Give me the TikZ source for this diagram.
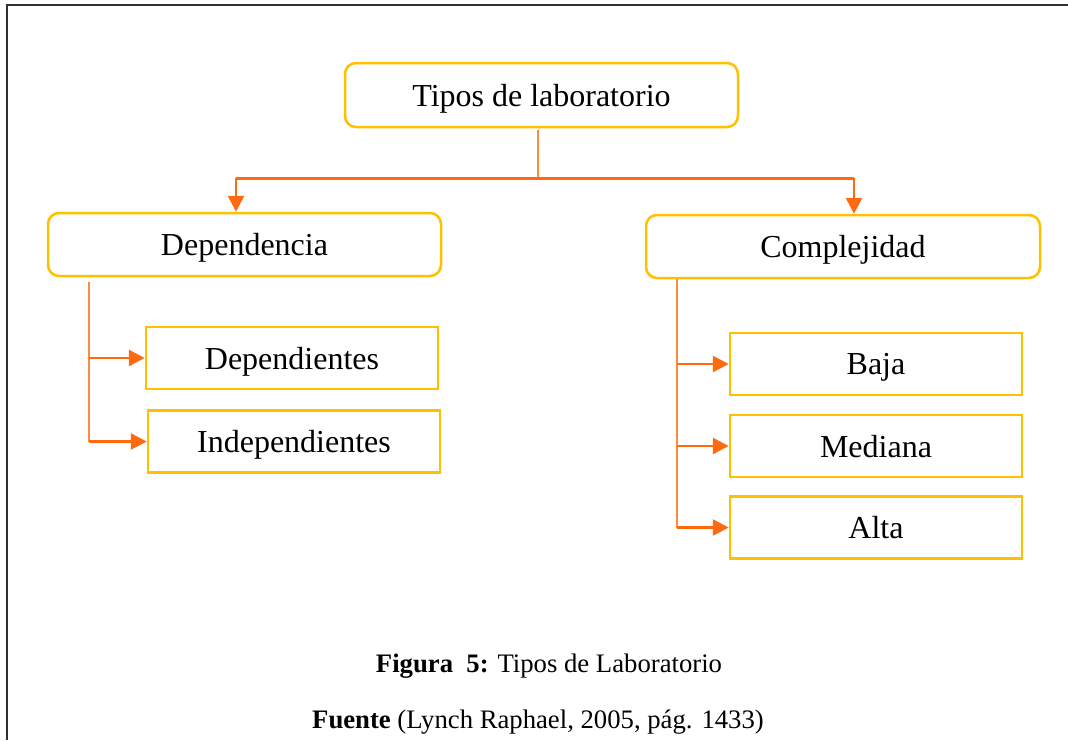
\documentclass[tikz,border=0pt]{standalone}
\usepackage{fontspec}
\setmainfont{Liberation Serif}
\usetikzlibrary{arrows.meta,calc}
\definecolor{boxgold}{HTML}{FFC000}
\definecolor{arrorange}{HTML}{FF6A10}
\definecolor{lineorange}{HTML}{FF8A3C}
\definecolor{framegray}{HTML}{303030}
\tikzset{
  boxtext/.style={font=\fontsize{32}{38}\selectfont, text=black, align=center, text depth=0pt},
  roundbox/.style={boxtext, draw=boxgold, line width=2.5pt, rounded corners=11pt, inner sep=0pt},
  leafbox/.style={boxtext, draw=boxgold, line width=2.5pt, inner sep=0pt, minimum width=292pt, minimum height=62pt},
  trunk/.style={draw=lineorange, line width=1.6pt},
  arr/.style={draw=arrorange, line width=2.6pt, -{Triangle[length=16pt,width=16pt]}},
  caption/.style={font=\fontsize{26.7}{32}\selectfont, text=black}
}
\begin{document}
\begin{tikzpicture}[x=1pt,y=-1pt]
  \useasboundingbox (0,0) rectangle (1068,740);
  \fill[white] (0,0) rectangle (1068,740);

  % page frame (top and left rules)
  \draw[framegray, line width=2pt] (7,740) -- (7,5) -- (1068,5);

  % main boxes
  \node[roundbox, minimum width=393pt, minimum height=64pt] (top) at (541.5,95) {Tipos de laboratorio};
  \node[roundbox, minimum width=393pt, minimum height=63pt] (dep) at (244.5,244.5) {Dependencia};
  \node[roundbox, minimum width=394pt, minimum height=63pt] (comp) at (843,246.5) {Complejidad};

  % leaf boxes
  \node[leafbox] (deps) at (292,358) {Dependientes};
  \node[leafbox] (indep) at (294,441.5) {Independientes};
  \node[leafbox] (baja) at (876,364) {Baja};
  \node[leafbox] (med) at (876,446) {Mediana};
  \node[leafbox] (alta) at (876,527.5) {Alta};

  % split below the top box
  \coordinate (split) at ($(top.south)+(-3.5,50)$);
  \draw[trunk] ($(top.south)+(-3.5,2)$) -- (split);
  \draw[draw=arrorange, line width=2.6pt] (split -| {$(dep.north)+(-8.5,0)$}) -- (split -| {$(comp.north)+(11,0)$});
  \draw[arr] (split -| {$(dep.north)+(-8.5,0)$}) -- ($(dep.north)+(-8.5,0)$);
  \draw[arr] (split -| {$(comp.north)+(11,0)$}) -- ($(comp.north)+(11,0)$);

  % Dependencia branch
  \coordinate (depbr) at ($(dep.south west)+(42,5)$);
  \draw[trunk] (depbr) -- (depbr |- indep.west);
  \draw[arr] (depbr |- deps.west) -- (deps.west);
  \draw[arr] (depbr |- indep.west) -- (indep.west);

  % Complejidad branch
  \coordinate (compbr) at ($(comp.south west)+(32,0)$);
  \draw[trunk] (compbr) -- (compbr |- alta.west);
  \draw[arr] (compbr |- baja.west) -- (baja.west);
  \draw[arr] (compbr |- med.west) -- (med.west);
  \draw[arr] (compbr |- alta.west) -- (alta.west);

  % caption
  \node[caption] (fig) at (549,666) {\textbf{Figura\ \ 5:} Tipos de Laboratorio};
  \node[caption] (src) at (538,722) {\textbf{Fuente} (Lynch Raphael, 2005, pág. 1433)};
\end{tikzpicture}
\end{document}
